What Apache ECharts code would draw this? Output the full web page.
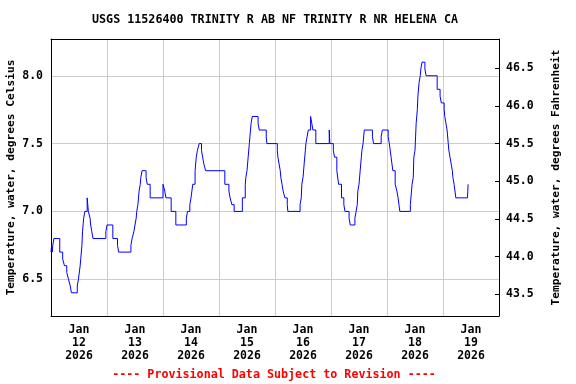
<!DOCTYPE html>
<html>
<head>
<meta charset="utf-8">
<script src="https://cdn.jsdelivr.net/npm/echarts@6/dist/echarts.min.js"></script>
<style>html,body{margin:0;padding:0;background:#fff}#c{width:576px;height:384px}</style>
</head>
<body>
<div id="c"></div>
<script>
// Hours since 2026-01-12 00:00 at which the reading changes, and the new reading (deg C)
const hours = [0,0.25,0.5,0.75,1.25,3.75,5,5.75,6.75,7.5,8.25,8.75,11.25,11.75,12.5,12.75,13.25,13.5,14,14.5,15.5,16,16.75,17,17.5,18,23.5,24,26.5,28.5,29,34.25,34.75,35.5,36,36.5,36.75,37.25,37.75,38.25,38.5,39,40.75,41.25,42.5,48,48.75,49.25,51.5,53.5,58,58.5,59.5,60,60.75,61.75,62.25,62.75,63.5,64.5,65,65.5,66.25,74.5,76.25,76.75,77.5,78.5,82,83.25,83.5,84,84.5,85,85.25,85.75,86.25,88.75,89.25,92.25,92.5,97,97.25,97.75,98.25,98.5,99,99.5,100.25,101.25,101.5,106.75,107.25,107.5,108,108.5,109,109.25,109.75,110.25,111.25,111.75,112.25,113.5,119.25,119.5,121,121.5,122.5,123.25,124.5,125.5,126,127.75,128.25,130.25,130.75,131.25,131.5,132,132.5,133,133.25,133.75,134.25,137.75,138.25,141.5,142,144.5,145,145.75,146.5,147.5,148.25,148.75,149.5,154,154.25,154.75,155.25,155.5,156,156.5,157,157.25,157.75,158.25,158.5,159,160.25,160.75,165.5,166.75,167.25,168.5,168.75,169.25,169.75,170.25,170.5,171,171.5,172,172.25,172.75,173.5,178.5,178.75];
const tempC = [6.7,6.75,6.7,6.75,6.8,6.7,6.65,6.6,6.55,6.5,6.45,6.4,6.45,6.5,6.6,6.65,6.75,6.85,6.95,7.0,7.1,7.0,6.95,6.9,6.85,6.8,6.85,6.9,6.8,6.75,6.7,6.75,6.8,6.85,6.9,6.95,7.0,7.05,7.15,7.2,7.25,7.3,7.25,7.2,7.1,7.2,7.15,7.1,7.0,6.9,6.95,7.0,7.05,7.1,7.2,7.3,7.4,7.45,7.5,7.45,7.4,7.35,7.3,7.2,7.15,7.1,7.05,7.0,7.1,7.2,7.25,7.3,7.4,7.5,7.55,7.65,7.7,7.65,7.6,7.55,7.5,7.45,7.4,7.35,7.3,7.25,7.2,7.15,7.1,7.05,7.0,7.05,7.1,7.2,7.25,7.35,7.45,7.5,7.55,7.6,7.7,7.65,7.6,7.5,7.6,7.5,7.45,7.4,7.3,7.2,7.1,7.05,7.0,6.95,6.9,6.95,7.0,7.05,7.15,7.2,7.3,7.4,7.45,7.5,7.6,7.55,7.5,7.55,7.6,7.55,7.5,7.4,7.3,7.2,7.15,7.1,7.0,7.05,7.1,7.2,7.25,7.4,7.45,7.65,7.75,7.85,7.95,8.0,8.05,8.1,8.05,8.0,7.9,7.85,7.8,7.75,7.7,7.65,7.6,7.5,7.45,7.4,7.35,7.3,7.25,7.2,7.1,7.1,7.2];
const dayLabels = ['Jan\n12\n2026','Jan\n13\n2026','Jan\n14\n2026','Jan\n15\n2026','Jan\n16\n2026','Jan\n17\n2026','Jan\n18\n2026','Jan\n19\n2026'];
const celsiusTicks = [6.5, 7.0, 7.5, 8.0];
const fahrenheitTicks = [43.5, 44.0, 44.5, 45.0, 45.5, 46.0, 46.5];
const cMin = 6.229, cMax = 8.271;
const titleText = 'USGS 11526400 TRINITY R AB NF TRINITY R NR HELENA CA';
const footText = '---- Provisional Data Subject to Revision ----';

const FONT = 'DejaVu Sans Mono';
const chart = echarts.init(document.getElementById('c'), null, {renderer: 'canvas'});
const seriesData = hours.map((h, i) => [h, tempC[i]]);
chart.setOption({
  animation: false,
  backgroundColor: '#fff',
  graphic: [
    {type: 'text', x: 275, y: 14, style: {text: titleText, fontFamily: FONT, fontWeight: 'bold', fontSize: 11.7, fill: '#000', align: 'center', textAlign: 'center'}},
    {type: 'text', x: 274, y: 369, style: {text: footText, fontFamily: FONT, fontWeight: 'bold', fontSize: 11.7, fill: '#ff0000', align: 'center', textAlign: 'center'}}
  ],
  grid: {left: 51, right: 77, top: 39, bottom: 68, show: false, outerBoundsMode: 'none', containLabel: false},
  xAxis: [
    {type: 'category', data: dayLabels, boundaryGap: true, position: 'bottom',
     axisLine: {show: true, onZero: false, lineStyle: {color: '#000', width: 1}},
     axisTick: {show: false},
     splitLine: {show: true, interval: 0, lineStyle: {color: '#cccccc', width: 1}},
     axisLabel: {interval: 0, margin: 8, lineHeight: 12.8, fontFamily: FONT, fontWeight: 'bold', fontSize: 11.5, color: '#000'}},
    {type: 'value', min: 0, max: 192, position: 'top',
     axisLine: {show: true, onZero: false, lineStyle: {color: '#000', width: 1}},
     axisTick: {show: false}, axisLabel: {show: false}, splitLine: {show: false}}
  ],
  yAxis: [
    {type: 'value', min: cMin, max: cMax, position: 'left',
     name: 'Temperature, water, degrees Celsius', nameLocation: 'middle', nameGap: 34, nameRotate: 90, nameMoveOverlap: false,
     nameTextStyle: {fontFamily: FONT, fontWeight: 'bold', fontSize: 11.2, color: '#000'},
     axisLine: {show: true, onZero: false, lineStyle: {color: '#000', width: 1}},
     axisTick: {show: false, customValues: celsiusTicks},
     axisLabel: {customValues: celsiusTicks, margin: 8, formatter: v => v.toFixed(1), fontFamily: FONT, fontWeight: 'bold', fontSize: 11.5, color: '#000'},
     splitLine: {show: true, lineStyle: {color: '#cccccc', width: 1}}},
    {type: 'value', min: cMin * 1.8 + 32, max: cMax * 1.8 + 32, position: 'right',
     name: 'Temperature, water, degrees Fahrenheit', nameLocation: 'middle', nameGap: 52, nameRotate: 90, nameMoveOverlap: false,
     nameTextStyle: {fontFamily: FONT, fontWeight: 'bold', fontSize: 11.2, color: '#000'},
     axisLine: {show: true, onZero: false, lineStyle: {color: '#000', width: 1}},
     axisTick: {show: true, inside: true, length: 4, customValues: fahrenheitTicks, lineStyle: {color: '#000'}},
     axisLabel: {customValues: fahrenheitTicks, margin: 7, formatter: v => v.toFixed(1), fontFamily: FONT, fontWeight: 'bold', fontSize: 11.5, color: '#000'},
     splitLine: {show: false}}
  ],
  series: [{
    type: 'line', xAxisIndex: 1, yAxisIndex: 0, data: seriesData, step: 'end',
    showSymbol: false, symbol: 'none', lineStyle: {color: '#0000ff', width: 1}, z: 5
  }]
});
</script>
</body>
</html>
